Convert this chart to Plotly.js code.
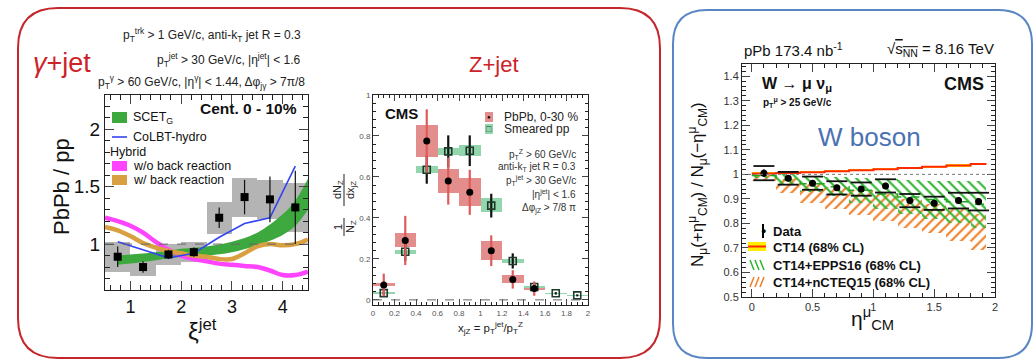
<!DOCTYPE html>
<html><head><meta charset="utf-8">
<script src="https://cdn.plot.ly/plotly-3.0.1.min.js"></script>
<style>body{margin:0;background:#fff}#chart{width:1036px;height:364px}</style>
</head><body><div id="chart"></div>
<script>
// ---------------- gamma+jet (PbPb/pp vs xi_jet) ----------------
const xiBins   = [0.75, 1.25, 1.75, 2.25, 2.75, 3.25, 3.75, 4.25];
const gjRatio  = [0.89, 0.80, 0.91, 0.93, 1.23, 1.41, 1.39, 1.32];
const gjStat   = [0.09, 0.05, 0.04, 0.04, 0.09, 0.15, 0.20, 0.32];
const gjSys    = [0.13, 0.08, 0.09, 0.09, 0.14, 0.17, 0.17, 0.21];
const scetXi   = [0.75, 1.0, 1.5, 2.0, 2.5, 3.0, 3.5, 4.0, 4.25, 4.5];
const scetLow  = [0.82, 0.83, 0.86, 0.89, 0.90, 0.93, 0.99, 1.08, 1.16, 1.30];
const scetHigh = [0.90, 0.91, 0.93, 0.96, 0.98, 1.02, 1.10, 1.26, 1.38, 1.57];
const colbtXi  = [0.75, 1.25, 1.75, 2.25, 2.75, 3.25, 3.75, 4.25];
const colbt    = [1.02, 0.95, 0.88, 0.92, 1.06, 1.18, 1.23, 1.68];
const hybXi    = [0.5, 0.75, 1.0, 1.25, 1.5, 1.75, 2.0, 2.25, 2.5, 2.75, 3.0, 3.25, 3.5, 3.75, 4.0, 4.25, 4.5];
const hybNoBR  = [1.23, 1.20, 1.16, 1.10, 1.02, 0.95, 0.90, 0.87, 0.85, 0.83, 0.82, 0.81, 0.80, 0.77, 0.73, 0.73, 0.76];
const hybWithBR= [1.15, 1.12, 1.07, 1.01, 0.97, 0.94, 0.92, 0.90, 0.89, 0.87, 0.87, 0.92, 0.98, 1.00, 0.99, 1.00, 1.04];

// ---------------- Z+jet (x_jZ) ----------------
const xjzBins   = [0.1, 0.3, 0.5, 0.7, 0.9, 1.1, 1.3, 1.5];
const pbpbVal   = [0.073, 0.29, 0.775, 0.58, 0.525, 0.24, 0.10, 0.055];
const pbpbStat  = [0.055, 0.12, 0.155, 0.115, 0.11, 0.075, 0.045, 0.035];
const pbpbSysLo = [0.068, 0.258, 0.695, 0.52, 0.46, 0.195, 0.08, 0.05];
const pbpbSysHi = [0.080, 0.325, 0.855, 0.64, 0.595, 0.285, 0.12, 0.065];
const ppBins    = [0.1, 0.3, 0.5, 0.7, 0.9, 1.1, 1.3, 1.5, 1.7, 1.9];
const ppVal     = [0.033, 0.235, 0.635, 0.725, 0.728, 0.46, 0.19, 0.063, 0.032, 0.022];
const ppStat    = [0.008, 0.045, 0.068, 0.078, 0.075, 0.058, 0.037, 0.015, 0.006, 0.005];
const ppSysLo   = [0.028, 0.225, 0.618, 0.708, 0.703, 0.43, 0.178, 0.057, 0.030, 0.020];
const ppSysHi   = [0.038, 0.245, 0.655, 0.742, 0.755, 0.495, 0.200, 0.070, 0.034, 0.024];

// ---------------- W boson forward/backward ratio ----------------
const etaEdges = [0, 0.2, 0.4, 0.6, 0.8, 1.0, 1.2, 1.4, 1.6, 1.8, 1.93];
const etaData  = [0.1, 0.3, 0.5, 0.7, 0.9, 1.1, 1.3, 1.5, 1.7, 1.865];
const wVal     = [1.005, 0.984, 0.964, 0.945, 0.940, 0.953, 0.893, 0.882, 0.893, 0.889];
const wStat    = [0.015, 0.012, 0.012, 0.012, 0.012, 0.013, 0.012, 0.012, 0.014, 0.015];
const wSys     = [0.029, 0.026, 0.027, 0.027, 0.027, 0.027, 0.027, 0.027, 0.032, 0.036];
const ct14     = [1.004, 1.006, 1.009, 1.013, 1.017, 1.021, 1.026, 1.031, 1.036, 1.042];
const ct14Err  = [0.004, 0.004, 0.004, 0.004, 0.004, 0.004, 0.004, 0.005, 0.005, 0.005];
const eppsLo   = [0.985, 0.955, 0.930, 0.910, 0.885, 0.860, 0.840, 0.820, 0.800, 0.780];
const eppsHi   = [1.003, 1.000, 0.995, 0.990, 0.985, 0.980, 0.978, 0.975, 0.975, 0.972];
const eppsMid  = [0.995, 0.978, 0.962, 0.950, 0.935, 0.920, 0.908, 0.898, 0.888, 0.878];
const ncteqLo  = [0.975, 0.925, 0.885, 0.860, 0.835, 0.810, 0.780, 0.760, 0.730, 0.690];
const ncteqHi  = [0.998, 0.985, 0.965, 0.950, 0.935, 0.920, 0.900, 0.880, 0.860, 0.840];

// ---------------- helpers ----------------
const W = 1036, H = 364;
const FONT = 'Liberation Sans, Arial, Helvetica, sans-serif';
const PX = v => v / W, PY = v => 1 - v / H;
const binC = etaEdges.slice(0, -1).map((e, i) => (e + etaEdges[i + 1]) / 2);
const binW = etaEdges.slice(0, -1).map((e, i) => etaEdges[i + 1] - e);
const stepY = arr => arr.concat([arr[arr.length - 1]]);

function ann(x, y, text, o = {}) {
  return Object.assign({
    xref: 'paper', yref: 'paper', x: PX(x), y: PY(y), text: text, showarrow: false,
    xanchor: 'left', yanchor: 'middle',
    font: {family: FONT, size: 11, color: '#111'}
  }, o);
}
function rect(x0, y0, x1, y1, color, o = {}) {
  return Object.assign({type: 'rect', xref: 'paper', yref: 'paper',
    x0: PX(x0), x1: PX(x1), y0: PY(y1), y1: PY(y0),
    fillcolor: color, line: {width: 0}}, o);
}
function seg(x0, y0, x1, y1, color, w, dash) {
  return {type: 'line', xref: 'paper', yref: 'paper', x0: PX(x0), x1: PX(x1), y0: PY(y0), y1: PY(y1),
    line: {color: color, width: w, dash: dash || 'solid'}};
}
function rr(x0, y0, x1, y1, r) {
  const X = PX, Y = PY;
  return `M ${X(x0 + r)} ${Y(y0)} L ${X(x1 - r)} ${Y(y0)} Q ${X(x1)} ${Y(y0)} ${X(x1)} ${Y(y0 + r)} ` +
    `L ${X(x1)} ${Y(y1 - r)} Q ${X(x1)} ${Y(y1)} ${X(x1 - r)} ${Y(y1)} L ${X(x0 + r)} ${Y(y1)} ` +
    `Q ${X(x0)} ${Y(y1)} ${X(x0)} ${Y(y1 - r)} L ${X(x0)} ${Y(y0 + r)} Q ${X(x0)} ${Y(y0)} ${X(x0 + r)} ${Y(y0)} Z`;
}

const traces = [];
// ---- panel 1 ----
traces.push({type: 'bar', x: xiBins, base: gjRatio.map((v, i) => v - gjSys[i]), y: gjSys.map(s => 2 * s),
  width: 0.5, marker: {color: '#b4b4b4', line: {width: 0}}, xaxis: 'x', yaxis: 'y', hoverinfo: 'skip'});
traces.push({type: 'scatter', mode: 'lines', x: scetXi, y: scetLow, line: {width: 0, shape: 'spline'}, xaxis: 'x', yaxis: 'y'});
traces.push({type: 'scatter', mode: 'lines', x: scetXi, y: scetHigh, fill: 'tonexty', fillcolor: '#3da83d',
  line: {width: 0, shape: 'spline'}, xaxis: 'x', yaxis: 'y'});
traces.push({type: 'scatter', mode: 'lines', x: hybXi, y: hybNoBR, line: {color: '#ff44ff', width: 4.5, shape: 'spline'}, xaxis: 'x', yaxis: 'y'});
traces.push({type: 'scatter', mode: 'lines', x: hybXi, y: hybWithBR, line: {color: '#d8a040', width: 4.5, shape: 'spline'}, xaxis: 'x', yaxis: 'y'});
traces.push({type: 'scatter', mode: 'lines', x: colbtXi, y: colbt, line: {color: '#3344f0', width: 1.6}, xaxis: 'x', yaxis: 'y'});
traces.push({type: 'scatter', mode: 'markers', x: xiBins, y: gjRatio,
  error_y: {type: 'data', array: gjStat, color: '#111', thickness: 1.2, width: 0},
  marker: {symbol: 'square', size: 8, color: '#000'}, xaxis: 'x', yaxis: 'y'});

// ---- panel 2 ----
traces.push({type: 'bar', x: xjzBins, base: pbpbSysLo, y: pbpbSysHi.map((v, i) => v - pbpbSysLo[i]),
  width: 0.2, marker: {color: '#e38d8d', line: {width: 0}}, xaxis: 'x2', yaxis: 'y2'});
traces.push({type: 'bar', x: ppBins, base: ppSysLo, y: ppSysHi.map((v, i) => v - ppSysLo[i]),
  width: 0.2, marker: {color: '#93d5ad', line: {width: 0}}, xaxis: 'x2', yaxis: 'y2'});
traces.push({type: 'scatter', mode: 'markers', x: ppBins, y: ppVal,
  error_y: {type: 'data', array: ppStat, color: '#111', thickness: 2.2, width: 0},
  marker: {symbol: 'square-open', size: 7, color: '#1e3a2a', line: {width: 1.6}}, xaxis: 'x2', yaxis: 'y2'});
traces.push({type: 'scatter', mode: 'markers', x: xjzBins, y: pbpbVal,
  error_y: {type: 'data', array: pbpbStat, color: '#e05a5a', thickness: 2.2, width: 0},
  marker: {symbol: 'circle', size: 7, color: '#000'}, xaxis: 'x2', yaxis: 'y2'});

// ---- panel 3 ----
traces.push({type: 'bar', x: binC, width: binW, base: ncteqLo, y: ncteqHi.map((v, i) => v - ncteqLo[i]),
  marker: {color: '#ef7d25', line: {width: 0}, pattern: {shape: '/', size: 7, solidity: 0.3, fillmode: 'replace'}},
  xaxis: 'x3', yaxis: 'y3'});
traces.push({type: 'bar', x: binC, width: binW, base: eppsLo, y: eppsHi.map((v, i) => v - eppsLo[i]),
  marker: {color: '#2fb52f', line: {width: 0}, pattern: {shape: '\\', size: 7, solidity: 0.3, fillmode: 'replace'}},
  xaxis: 'x3', yaxis: 'y3'});
traces.push({type: 'bar', x: binC, width: binW, base: ct14.map((v, i) => v - ct14Err[i]), y: ct14Err.map(e => 2 * e),
  marker: {color: '#ffee00', line: {width: 0}}, xaxis: 'x3', yaxis: 'y3'});
traces.push({type: 'scatter', mode: 'lines', x: etaEdges, y: stepY(eppsMid),
  line: {color: '#22a622', width: 1.5, dash: 'dash', shape: 'hv'}, xaxis: 'x3', yaxis: 'y3'});
traces.push({type: 'scatter', mode: 'lines', x: etaEdges, y: stepY(ct14),
  line: {color: '#ff2a00', width: 2, shape: 'hv'}, xaxis: 'x3', yaxis: 'y3'});
traces.push({type: 'scatter', mode: 'markers', x: etaData.concat(etaData),
  y: wVal.map((v, i) => v + wSys[i]).concat(wVal.map((v, i) => v - wSys[i])),
  marker: {symbol: 'line-ew', size: 15, line: {color: '#111', width: 1.8}}, xaxis: 'x3', yaxis: 'y3'});
traces.push({type: 'scatter', mode: 'markers', x: etaData, y: wVal,
  error_y: {type: 'data', array: wStat, color: '#000', thickness: 2, width: 0},
  marker: {symbol: 'circle', size: 7, color: '#000'}, xaxis: 'x3', yaxis: 'y3'});

const baseAx = {showline: true, mirror: 'ticks', linecolor: '#222', linewidth: 1, ticks: 'inside',
  zeroline: false, showgrid: false, fixedrange: true};

const layout = {
  width: W, height: H, autosize: false, margin: {l: 0, r: 0, t: 0, b: 0},
  paper_bgcolor: '#fff', plot_bgcolor: 'rgba(0,0,0,0)', showlegend: false, barmode: 'overlay', bargap: 0,
  font: {family: FONT},
  xaxis: Object.assign({}, baseAx, {domain: [PX(105), PX(308)], anchor: 'y', range: [0.5, 4.5],
    tickvals: [1, 2, 3, 4], ticklen: 9, tickfont: {size: 18, color: '#111'},
    minor: {dtick: 0.2, ticks: 'inside', ticklen: 5, tickcolor: '#222'}}),
  yaxis: Object.assign({}, baseAx, {domain: [1 - 290 / H, 1 - 95 / H], anchor: 'x', range: [0.6, 2.3],
    tickvals: [1, 1.5, 2], ticktext: ['1', '1.5', '2'], ticklen: 9, tickfont: {size: 19, color: '#111'},
    minor: {dtick: 0.1, ticks: 'inside', ticklen: 5, tickcolor: '#222'}}),
  xaxis2: Object.assign({}, baseAx, {domain: [PX(373), PX(588)], anchor: 'y2', range: [0, 2],
    dtick: 0.2, ticklen: 6, tickfont: {size: 8, color: '#555'},
    minor: {dtick: 0.05, ticks: 'inside', ticklen: 3, tickcolor: '#222'}}),
  yaxis2: Object.assign({}, baseAx, {domain: [1 - 305 / H, 1 - 95 / H], anchor: 'x2', range: [-0.025, 1.0],
    tickvals: [0, 0.2, 0.4, 0.6, 0.8, 1], ticklen: 6, tickfont: {size: 8, color: '#555'},
    minor: {dtick: 0.04, ticks: 'inside', ticklen: 3, tickcolor: '#222'}}),
  xaxis3: Object.assign({}, baseAx, {domain: [PX(742), PX(995)], anchor: 'y3', range: [-0.08, 2.0],
    tickvals: [0, 0.5, 1, 1.5, 2], ticklen: 8, tickfont: {size: 11, color: '#333'},
    minor: {dtick: 0.1, ticks: 'inside', ticklen: 4, tickcolor: '#222'}}),
  yaxis3: Object.assign({}, baseAx, {domain: [1 - 297 / H, 1 - 64 / H], anchor: 'x3', range: [0.5, 1.45],
    dtick: 0.1, tick0: 0.5, ticklen: 8, tickfont: {size: 11, color: '#333'},
    minor: {dtick: 0.02, ticks: 'inside', ticklen: 4, tickcolor: '#222'}}),
  shapes: [
    {type: 'path', xref: 'paper', yref: 'paper', path: rr(18, 8, 660, 358, 40), line: {color: '#c4262b', width: 2}, fillcolor: 'rgba(0,0,0,0)'},
    {type: 'path', xref: 'paper', yref: 'paper', path: rr(673, 10, 1032, 358, 34), line: {color: '#5a86c4', width: 2}, fillcolor: 'rgba(0,0,0,0)'},
    {type: 'line', xref: 'x', yref: 'y', x0: 0.5, x1: 4.5, y0: 1, y1: 1, line: {color: '#666', width: 1, dash: 'dash'}},
    {type: 'line', xref: 'x2', yref: 'y2', x0: 0, x1: 2, y0: 0, y1: 0, line: {color: '#666', width: 1, dash: 'dash'}},
    {type: 'line', xref: 'x3', yref: 'y3', x0: -0.08, x1: 2.0, y0: 1, y1: 1, line: {color: '#777', width: 1, dash: 'dot'}},
    // panel 1 legend
    rect(112, 112, 127, 123, '#3da83d'),
    seg(112, 137, 127, 137, '#3344f0', 1.6),
    rect(112, 161, 127, 171, '#ff44ff'),
    rect(112, 175, 127, 185, '#d8a040'),
    // panel 2 legend
    rect(485, 112, 493, 122, '#e38d8d'),
    rect(485, 124, 493, 134, '#93d5ad'),
    // panel 3 legend
    seg(763, 224, 763, 238, '#000', 2),
    rect(748, 242, 766, 251, '#ffee00'),
    seg(748, 246.5, 766, 246.5, '#ff2a00', 2),
    seg(750, 260, 754, 270, '#2fb52f', 1.5), seg(755, 260, 759, 270, '#2fb52f', 1.5), seg(760, 260, 764, 270, '#2fb52f', 1.5),
    seg(750, 287, 754, 277, '#ef7d25', 1.5), seg(755, 287, 759, 277, '#ef7d25', 1.5), seg(760, 287, 764, 277, '#ef7d25', 1.5),
    // panel 2 y-title fraction bars
    seg(344, 218, 344, 236, '#222', 1), seg(344, 174, 344, 206, '#222', 1)
  ],
  annotations: [
    // panel 1
    ann(31, 63, '<i>γ</i>+jet', {font: {family: FONT, size: 27, color: '#cc2229'}}),
    ann(303, 35, 'p<sub>T</sub><sup>trk</sup> > 1 GeV/c, anti-k<sub>T</sub> jet R = 0.3', {xanchor: 'right', font: {family: FONT, size: 12, color: '#222'}}),
    ann(303, 60, 'p<sub>T</sub><sup>jet</sup> > 30 GeV/c, |η<sup>jet</sup>| < 1.6', {xanchor: 'right', font: {family: FONT, size: 12, color: '#222'}}),
    ann(307, 82, 'p<sub>T</sub><sup>γ</sup> > 60 GeV/c, |η<sup>γ</sup>| < 1.44, Δφ<sub>jγ</sub> > 7π/8', {xanchor: 'right', font: {family: FONT, size: 12, color: '#222'}}),
    ann(299, 108, '<b>Cent. 0 - 10%</b>', {xanchor: 'right', font: {family: FONT, size: 15.5, color: '#111'}}),
    ann(131, 118, 'SCET<sub>G</sub>', {font: {family: FONT, size: 12.5, color: '#111'}}),
    ann(131, 137, 'CoLBT-hydro', {font: {family: FONT, size: 12.5, color: '#111'}}),
    ann(108, 152, 'Hybrid', {font: {family: FONT, size: 12.5, color: '#111'}}),
    ann(131, 166, 'w/o back reaction', {font: {family: FONT, size: 12.5, color: '#111'}}),
    ann(131, 180, 'w/ back reaction', {font: {family: FONT, size: 12.5, color: '#111'}}),
    ann(62, 187, 'PbPb / pp', {xanchor: 'center', textangle: -90, font: {family: FONT, size: 22, color: '#111'}}),
    ann(202, 330, 'ξ<sup>jet</sup>', {xanchor: 'center', font: {family: FONT, size: 24, color: '#111'}}),
    // panel 2
    ann(494, 64, 'Z+jet', {xanchor: 'center', font: {family: FONT, size: 22, color: '#cc2229'}}),
    ann(383, 113, '<b>CMS</b>', {font: {family: FONT, size: 15, color: '#111'}}),
    ann(489, 117, '●', {xanchor: 'center', font: {family: FONT, size: 6, color: '#000'}}),
    ann(489, 129, '□', {xanchor: 'center', font: {family: FONT, size: 9, color: '#1e3a2a'}}),
    ann(502, 117, 'PbPb, 0-30 %', {font: {family: FONT, size: 12, color: '#222'}}),
    ann(502, 129, 'Smeared pp', {font: {family: FONT, size: 12, color: '#222'}}),
    ann(578, 154, 'p<sub>T</sub><sup>Z</sup> > 60 GeV/c', {xanchor: 'right', font: {family: FONT, size: 10, color: '#333'}}),
    ann(578, 167, 'anti-k<sub>T</sub> jet R = 0.3', {xanchor: 'right', font: {family: FONT, size: 10, color: '#333'}}),
    ann(578, 180, 'p<sub>T</sub><sup>jet</sup> > 30 GeV/c', {xanchor: 'right', font: {family: FONT, size: 10, color: '#333'}}),
    ann(578, 194, '|η<sup>jet</sup>| < 1.6', {xanchor: 'right', font: {family: FONT, size: 10, color: '#333'}}),
    ann(578, 209, 'Δφ<sub>jZ</sub> > 7/8 π', {xanchor: 'right', font: {family: FONT, size: 10, color: '#333'}}),
    ann(338, 227, '1', {xanchor: 'center', textangle: -90, font: {family: FONT, size: 11, color: '#222'}}),
    ann(351, 227, 'N<sub>Z</sub>', {xanchor: 'center', textangle: -90, font: {family: FONT, size: 11, color: '#222'}}),
    ann(338, 190, 'dN<sub>Z</sub>', {xanchor: 'center', textangle: -90, font: {family: FONT, size: 11, color: '#222'}}),
    ann(351, 190, 'dx<sub>jZ</sub>', {xanchor: 'center', textangle: -90, font: {family: FONT, size: 11, color: '#222'}}),
    ann(490, 328, 'x<sub>jZ</sub> = p<sub>T</sub><sup>jet</sup>/p<sub>T</sub><sup>Z</sup>', {xanchor: 'center', font: {family: FONT, size: 11.5, color: '#222'}}),
    // panel 3
    ann(742, 50, 'pPb 173.4 nb<sup>-1</sup>', {font: {family: FONT, size: 15, color: '#111'}}),
    ann(996, 50, '√<span style="text-decoration:overline">s<sub>NN</sub></span> = 8.16 TeV', {xanchor: 'right', font: {family: FONT, size: 15, color: '#111'}}),
    ann(760, 84, '<b>W → μ ν<sub>μ</sub></b>', {font: {family: FONT, size: 16, color: '#111'}}),
    ann(761, 102, '<b>p<sub>T</sub><sup>μ</sup> > 25 GeV/c</b>', {font: {family: FONT, size: 10, color: '#111'}}),
    ann(986, 84, '<b>CMS</b>', {xanchor: 'right', font: {family: FONT, size: 18, color: '#111'}}),
    ann(869, 137, 'W boson', {xanchor: 'center', font: {family: FONT, size: 26, color: '#4a72b2'}}),
    ann(763, 231, '●', {xanchor: 'center', font: {family: FONT, size: 9, color: '#000'}}),
    ann(771, 231, '<b>Data</b>', {font: {family: FONT, size: 13, color: '#111'}}),
    ann(771, 247, '<b>CT14 (68% CL)</b>', {font: {family: FONT, size: 13, color: '#111'}}),
    ann(771, 265, '<b>CT14+EPPS16 (68% CL)</b>', {font: {family: FONT, size: 13, color: '#111'}}),
    ann(771, 282, '<b>CT14+nCTEQ15 (68% CL)</b>', {font: {family: FONT, size: 13, color: '#111'}}),
    ann(697, 185, 'N<sub>μ</sub>(+η<sup>μ</sup><sub>CM</sub>) / N<sub>μ</sub>(−η<sup>μ</sup><sub>CM</sub>)', {xanchor: 'center', textangle: -90, font: {family: FONT, size: 17, color: '#111'}}),
    ann(872, 318, 'η<sup>μ</sup><sub>CM</sub>', {xanchor: 'center', font: {family: FONT, size: 21, color: '#111'}})
  ]
};

Plotly.newPlot('chart', traces, layout, {staticPlot: true, displayModeBar: false});
</script>
</body></html>
